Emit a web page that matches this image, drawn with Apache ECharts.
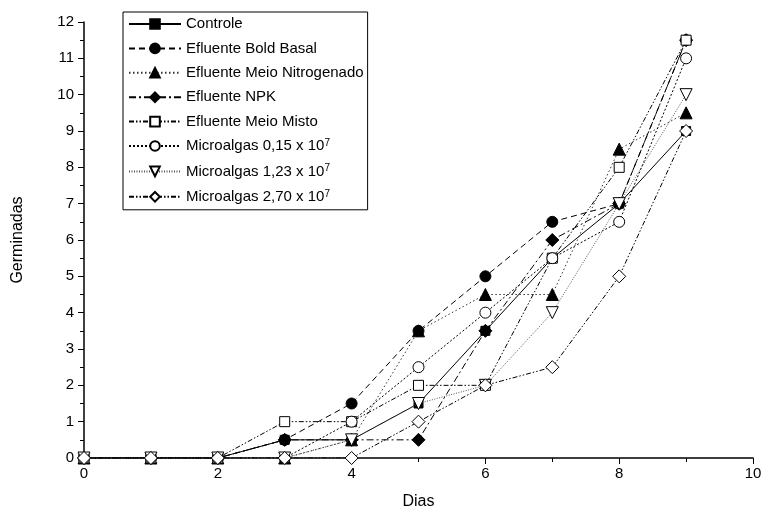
<!DOCTYPE html>
<html><head><meta charset="utf-8">
<script src="https://cdn.jsdelivr.net/npm/echarts@6/dist/echarts.min.js"></script>
<style>html,body{margin:0;padding:0;background:#fff}#c{width:765px;height:518px}</style>
</head><body><div id="c"></div>
<script>
var dias = [0,1,2,3,4,5,6,7,8,9];
var seriesNames = ['Controle','Efluente Bold Basal','Efluente Meio Nitrogenado','Efluente NPK','Efluente Meio Misto','Microalgas 0,15 x 10^7','Microalgas 1,23 x 10^7','Microalgas 2,70 x 10^7'];
var controle      = [0,0,0,0.5,0.5,1.5,3.5,5.5,7,9];
var boldBasal     = [0,0,0,0.5,1.5,3.5,5,6.5,7,11.5];
var nitrogenado   = [0,0,0,0,0.5,3.5,4.5,4.5,8.5,9.5];
var npk           = [0,0,0,0.5,0.5,0.5,3.5,6,7,11.5];
var misto         = [0,0,0,1,1,2,2,5.5,8,11.5];
var micro015      = [0,0,0,0,1,2.5,4,5.5,6.5,11];
var micro123      = [0,0,0,0,0.5,1.5,2,4,7,10];
var micro270      = [0,0,0,0,0,1,2,2.5,5,9];
var xTicks = [0,2,4,6,8,10];
var yTicks = [0,1,2,3,4,5,6,7,8,9,10,11,12];

var allData = [controle,boldBasal,nitrogenado,npk,misto,micro015,micro123,micro270];
var styles = [
  {symbol:'rect', size:9, fill:'#000', dash:'solid', color:'#000'},
  {symbol:'circle', size:11, fill:'#000', dash:[6,4], color:'#000'},
  {symbol:'triangle', size:12, fill:'#000', dash:[1.5,2.5], color:'#333'},
  {symbol:'diamond', size:13, fill:'#000', dash:[7,3,2,3], color:'#000'},
  {symbol:'rect', size:10, fill:'#fff', dash:[5,2,1.5,2,1.5,2], color:'#000'},
  {symbol:'circle', size:11, fill:'#fff', dash:[2,2], color:'#000'},
  {symbol:'triangle', size:12, fill:'#fff', dash:[1,1.5], color:'#555', rotate:180},
  {symbol:'diamond', size:13, fill:'#fff', dash:[5,2,1.5,2,1.5,2], color:'#000'}
];
var series = seriesNames.map(function(n,i){
  var s = styles[i];
  return {
    name:n, type:'line', data: dias.map(function(d,j){return [d, allData[i][j]];}),
    symbol:s.symbol, symbolSize:s.size, symbolRotate:s.rotate||0, showAllSymbol:true,
    lineStyle:{color:s.color, width:1, type:s.dash},
    itemStyle:{color:s.fill, borderColor:'#000', borderWidth:1},
    emphasis:{disabled:true}, animation:false, z: 2+i
  };
});
var chart = echarts.init(document.getElementById('c'));
chart.setOption({
  animation:false,
  textStyle:{fontFamily:'Liberation Sans, Arial, sans-serif'},
  grid:{left:84, right:12, top:22, bottom:60},
  legend:{
    orient:'vertical', left:123, top:12, itemWidth:52, itemHeight:12, itemGap:8.4,
    borderColor:'#000', borderWidth:1, padding:[4,4,4,5], backgroundColor:'#fff',
    data: seriesNames,
    formatter:function(n){ return n.replace('^7','{sup|7}'); },
    textStyle:{fontSize:15, lineHeight:16, color:'#000', fontFamily:'Liberation Sans, Arial, sans-serif',
      rich:{sup:{fontSize:10, lineHeight:16, verticalAlign:'top', padding:[0,0,7,0], color:'#000'}}}
  },
  xAxis:{
    type:'value', min:0, max:10, interval:2, name:'Dias', nameLocation:'middle', nameGap:36,
    nameTextStyle:{fontSize:16, color:'#000'},
    axisLine:{lineStyle:{color:'#000', width:1.5}},
    axisTick:{inside:false, length:6, lineStyle:{color:'#000'}},
    minorTick:{show:true, splitNumber:2, length:4, lineStyle:{color:'#000'}},
    axisLabel:{fontSize:15, color:'#000', margin:8},
    splitLine:{show:false}
  },
  yAxis:{
    type:'value', min:0, max:12, interval:1, name:'Germinadas', nameLocation:'middle', nameGap:58,
    nameTextStyle:{fontSize:16, color:'#000'},
    axisLine:{show:true, lineStyle:{color:'#000', width:1.5}},
    axisTick:{show:true, inside:false, length:6, lineStyle:{color:'#000'}},
    minorTick:{show:true, splitNumber:2, length:4, lineStyle:{color:'#000'}},
    axisLabel:{fontSize:15, color:'#000', margin:10},
    splitLine:{show:false}
  },
  series: series
});
</script></body></html>
